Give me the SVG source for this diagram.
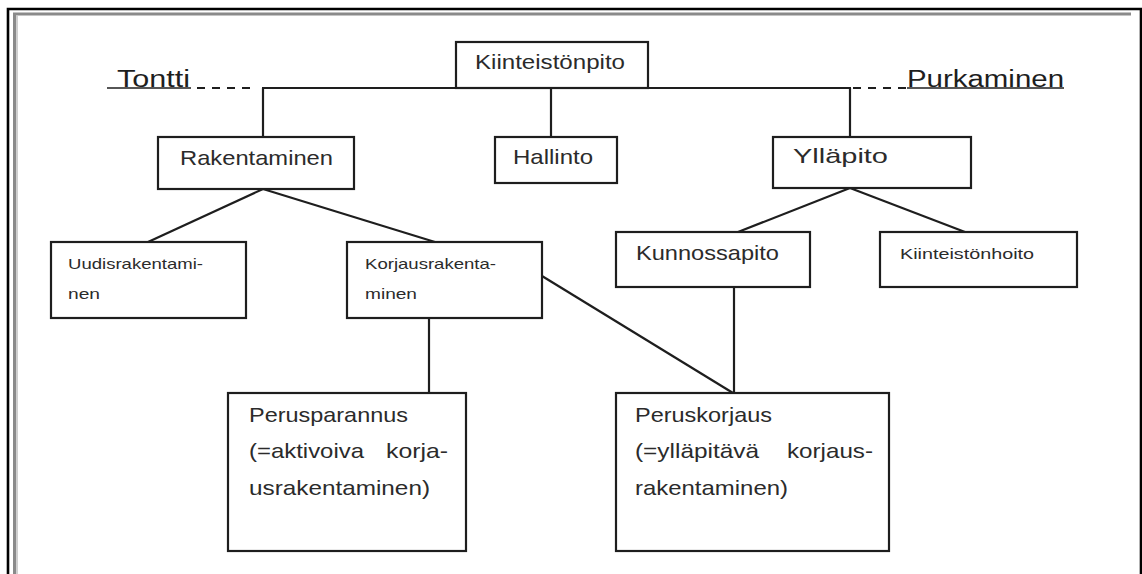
<svg xmlns="http://www.w3.org/2000/svg" width="1142" height="574" viewBox="0 0 1142 574">
  <style>
    .box { fill: #ffffff; stroke: #1e1e1e; stroke-width: 2.2; }
    .lbl { font-family: "Liberation Sans", Arial, sans-serif; font-size: 21px; fill: #2b2b2b; }
    .sm { font-family: "Liberation Sans", Arial, sans-serif; font-size: 14.5px; fill: #2b2b2b; }
    .big { font-family: "Liberation Sans", Arial, sans-serif; font-size: 23px; fill: #1e1e1e; }
    .con { stroke: #1e1e1e; stroke-width: 2.2; fill: none; }
    .dash { stroke: #1e1e1e; stroke-width: 1.8; stroke-dasharray: 8 7; fill: none; }
    .base { stroke: #1e1e1e; stroke-width: 1.4; fill: none; }
  </style>

  <rect width="1142" height="574" fill="#ffffff"/>

  <!-- page frame -->
  <g id="frame">
    <path d="M8 574 V9 H1141 V574" fill="none" stroke="#000000" stroke-width="2.6"/>
    <path d="M14.5 574 V14 H1131" fill="none" stroke="#8a8a8a" stroke-width="3"/>
    <path d="M17 574 V16" fill="none" stroke="#cfcfcf" stroke-width="2"/>
  </g>

  <!-- connectors -->
  <g id="connectors">
    <line class="con" x1="262" y1="88" x2="851" y2="88"/>
    <line class="con" x1="263" y1="88" x2="263" y2="137"/>
    <line class="con" x1="551" y1="88" x2="551" y2="137"/>
    <line class="con" x1="850" y1="88" x2="850" y2="137"/>
    <line class="con" x1="263" y1="189" x2="148" y2="242"/>
    <line class="con" x1="263" y1="189" x2="435" y2="242"/>
    <line class="con" x1="850" y1="188" x2="738" y2="232"/>
    <line class="con" x1="850" y1="188" x2="965" y2="232"/>
    <line class="con" x1="429" y1="318" x2="429" y2="393"/>
    <line class="con" x1="542" y1="276" x2="733" y2="393"/>
    <line class="con" x1="734" y1="287" x2="734" y2="393"/>
    <line class="dash" x1="197" y1="88" x2="255" y2="88"/>
    <line class="dash" x1="853" y1="88" x2="906" y2="88"/>
  </g>

  <!-- side labels on the main line -->
  <g id="tontti">
    <line class="base" x1="107" y1="88" x2="191" y2="88"/>
    <text class="big" x="117" y="87" textLength="73" lengthAdjust="spacingAndGlyphs">Tontti</text>
  </g>
  <g id="purkaminen">
    <line class="base" x1="907" y1="88" x2="1064" y2="88"/>
    <text class="big" x="907" y="87" textLength="157" lengthAdjust="spacingAndGlyphs">Purkaminen</text>
  </g>

  <g id="kiinteistonpito">
    <rect class="box" x="456" y="42" width="192" height="46"/>
    <text class="lbl" x="475" y="69" textLength="150" lengthAdjust="spacingAndGlyphs">Kiinteistönpito</text>
  </g>

  <g id="rakentaminen">
    <rect class="box" x="158" y="137" width="196" height="52"/>
    <text class="lbl" x="180" y="165" textLength="153" lengthAdjust="spacingAndGlyphs">Rakentaminen</text>
  </g>

  <g id="hallinto">
    <rect class="box" x="495" y="137" width="122" height="46"/>
    <text class="lbl" x="513" y="164" textLength="80" lengthAdjust="spacingAndGlyphs">Hallinto</text>
  </g>

  <g id="yllapito">
    <rect class="box" x="773" y="137" width="198" height="51"/>
    <text class="lbl" x="793" y="163" textLength="95" lengthAdjust="spacingAndGlyphs">Ylläpito</text>
  </g>

  <g id="uudisrakentaminen">
    <rect class="box" x="51" y="242" width="195" height="76"/>
    <text class="sm" x="68" y="269" textLength="135" lengthAdjust="spacingAndGlyphs">Uudisrakentami-</text>
    <text class="sm" x="68" y="299" textLength="32" lengthAdjust="spacingAndGlyphs">nen</text>
  </g>

  <g id="korjausrakentaminen">
    <rect class="box" x="347" y="242" width="195" height="76"/>
    <text class="sm" x="365" y="269" textLength="131" lengthAdjust="spacingAndGlyphs">Korjausrakenta-</text>
    <text class="sm" x="365" y="299" textLength="52" lengthAdjust="spacingAndGlyphs">minen</text>
  </g>

  <g id="kunnossapito">
    <rect class="box" x="616" y="232" width="194" height="55"/>
    <text class="lbl" x="636" y="260" textLength="143" lengthAdjust="spacingAndGlyphs">Kunnossapito</text>
  </g>

  <g id="kiinteistonhoito">
    <rect class="box" x="880" y="232" width="197" height="55"/>
    <text class="sm" x="900" y="259" textLength="134" lengthAdjust="spacingAndGlyphs">Kiinteistönhoito</text>
  </g>

  <g id="perusparannus">
    <rect class="box" x="228" y="393" width="238" height="158"/>
    <text class="lbl" x="249" y="422" textLength="159" lengthAdjust="spacingAndGlyphs">Perusparannus</text>
    <text class="lbl" y="458"><tspan x="249" textLength="115" lengthAdjust="spacingAndGlyphs">(=aktivoiva</tspan> <tspan x="386" textLength="62" lengthAdjust="spacingAndGlyphs">korja-</tspan></text>
    <text class="lbl" x="249" y="495" textLength="181" lengthAdjust="spacingAndGlyphs">usrakentaminen)</text>
  </g>

  <g id="peruskorjaus">
    <rect class="box" x="616" y="393" width="273" height="158"/>
    <text class="lbl" x="635" y="422" textLength="137" lengthAdjust="spacingAndGlyphs">Peruskorjaus</text>
    <text class="lbl" y="458"><tspan x="635" textLength="124" lengthAdjust="spacingAndGlyphs">(=ylläpitävä</tspan> <tspan x="787" textLength="86" lengthAdjust="spacingAndGlyphs">korjaus-</tspan></text>
    <text class="lbl" x="635" y="495" textLength="153" lengthAdjust="spacingAndGlyphs">rakentaminen)</text>
  </g>
</svg>
